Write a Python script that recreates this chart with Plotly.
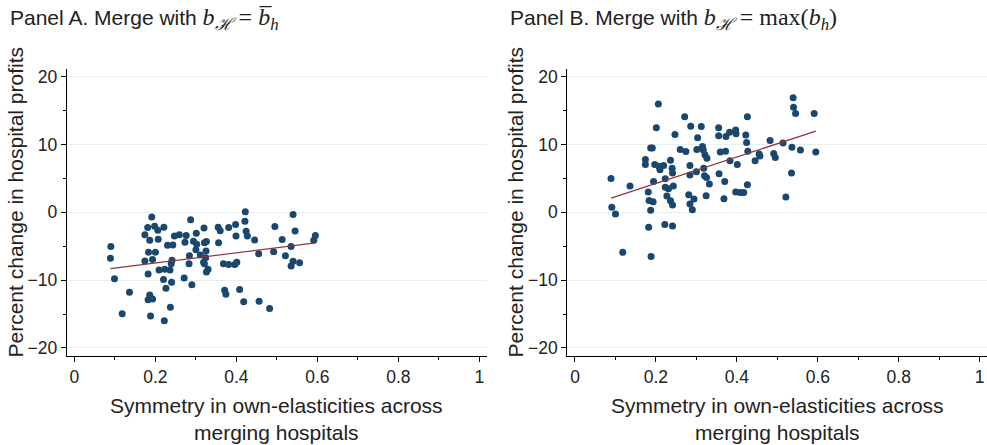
import plotly.graph_objects as go
from plotly.subplots import make_subplots
import numpy as np

# ---------------- Data ----------------
panel_a_x = [0.090, 0.089, 0.099, 0.136, 0.118, 0.191, 0.181, 0.198, 0.206, 0.221,
             0.174, 0.186, 0.207, 0.183, 0.200, 0.174, 0.193, 0.182, 0.209, 0.223,
             0.236, 0.220, 0.240, 0.226, 0.186, 0.182, 0.193, 0.237, 0.188, 0.222,
             0.230, 0.243, 0.247, 0.259, 0.276, 0.273, 0.287, 0.241, 0.239, 0.284,
             0.283, 0.271, 0.290, 0.301, 0.294, 0.302, 0.300, 0.320, 0.321, 0.326,
             0.311, 0.325, 0.324, 0.319, 0.321, 0.330, 0.326, 0.355, 0.360, 0.356,
             0.381, 0.398, 0.399, 0.422, 0.421, 0.424, 0.427, 0.445, 0.368, 0.381,
             0.396, 0.401, 0.371, 0.374, 0.408, 0.418, 0.455, 0.456, 0.482, 0.495,
             0.492, 0.513, 0.521, 0.540, 0.545, 0.535, 0.540, 0.535, 0.556, 0.591,
             0.595]
panel_a_y = [-5.05, -6.76, -9.8, -11.8, -14.95, -0.69, -2.25, -2.06, -2.65, -2.2,
             -3.3, -4.1, -3.97, -5.88, -5.88, -7.16, -6.96, -9.1, -8.5, -8.4,
             -8.5, -9.9, -10.3, -11.2, -12.2, -12.9, -12.8, -14.0, -15.3, -16.0,
             -4.85, -4.8, -3.5, -3.3, -3.4, -4.4, -1.08, -7.06, -7.6, -6.4,
             -7.6, -9.7, -10.7, -3.1, -4.27, -4.7, -5.5, -2.3, -4.5, -4.3,
             -6.3, -5.7, -6.7, -7.35, -7.6, -8.4, -8.8, -2.2, -2.7, -4.5,
             -2.25, -1.8, -3.5, 0.1, -1.3, -2.8, -3.5, -4.07, -7.6, -7.7,
             -7.7, -7.35, -11.5, -12.1, -11.4, -13.2, -6.1, -13.1, -14.2, -2.1,
             -5.8, -4.0, -6.4, -0.3, -2.75, -5.05, -7.2, -7.9, -7.45, -4.1,
             -3.4]

panel_b_x = [0.089, 0.136, 0.206, 0.201, 0.187, 0.191, 0.174, 0.174, 0.197, 0.207,
             0.219, 0.210, 0.194, 0.181, 0.183, 0.236, 0.240, 0.241, 0.223, 0.223,
             0.231, 0.243, 0.227, 0.236, 0.247, 0.260, 0.274, 0.271, 0.286, 0.312,
             0.303, 0.301, 0.315, 0.317, 0.321, 0.326, 0.284, 0.300, 0.318, 0.284,
             0.320, 0.325, 0.332, 0.281, 0.294, 0.324, 0.284, 0.355, 0.355, 0.359,
             0.372, 0.373, 0.382, 0.397, 0.398, 0.422, 0.426, 0.424, 0.427, 0.383,
             0.401, 0.356, 0.370, 0.368, 0.397, 0.408, 0.417, 0.426, 0.445, 0.455,
             0.457, 0.482, 0.491, 0.495, 0.514, 0.536, 0.535, 0.521, 0.539, 0.540,
             0.545, 0.557, 0.591, 0.595, 0.091, 0.100, 0.118, 0.188, 0.182, 0.222,
             0.241, 0.187, 0.193, 0.241, 0.290]
panel_b_y = [5.0, 3.87, 16.0, 12.5, 9.5, 9.5, 7.8, 7.06, 7.06, 6.8,
             6.9, 6.3, 4.56, 3.0, 1.76, 7.7, 6.5, 5.8, 4.95, 3.7,
             3.5, 3.9, 2.4, 1.7, 11.5, 9.26, 8.97, 14.1, 12.7, 12.65,
             11.0, 9.26, 9.7, 9.2, 8.5, 8.0, 6.9, 6.0, 6.5, 5.5,
             5.4, 5.15, 4.2, 2.6, 1.96, 2.45, 1.25, 12.5, 11.3, 8.9,
             9.0, 11.2, 11.8, 12.15, 11.6, 11.4, 14.1, 10.3, 9.0, 7.6,
             7.06, 5.7, 4.56, 2.0, 3.0, 2.94, 2.94, 4.07, 7.6, 8.6,
             8.3, 10.6, 8.7, 8.1, 10.25, 9.6, 5.8, 2.25, 16.9, 15.5,
             14.6, 9.2, 14.6, 8.9, 0.74, -0.25, -5.9, -6.5, -2.2, -1.8,
             -2.0, 0.3, 1.57, 1.07, 0.4]

# linear fit lines (intercept, slope)
fit_a = (-8.98, 7.52)
fit_b = (0.36, 19.53)

x_ticks = [0, 0.2, 0.4, 0.6, 0.8, 1]
x_tick_labels = ["0", "0.2", "0.4", "0.6", "0.8", "1"]
y_ticks = [-20, -10, 0, 10, 20]
y_tick_labels = ["\u221220", "\u221210", "0", "10", "20"]

x_title = "Symmetry in own-elasticities across<br>merging hospitals"
y_title = "Percent change in hospital profits"

# ---------------- Style ----------------
NAVY = "#1a476f"
MAROON = "#90353b"
GRID = "#e6eff1"
TXT = "#222222"
SANS = "Liberation Sans, Arial, Helvetica, sans-serif"
SERIF = "Liberation Serif, DejaVu Serif, serif"

W, H = 987, 445

fig = make_subplots(rows=1, cols=2)

for col, (xs, ys, fit) in enumerate([(panel_a_x, panel_a_y, fit_a),
                                     (panel_b_x, panel_b_y, fit_b)], start=1):
    fig.add_trace(go.Scatter(x=xs, y=ys, mode="markers",
                             marker=dict(color=NAVY, size=7, line=dict(width=0)),
                             showlegend=False), row=1, col=col)
    lx = np.array([min(xs), max(xs)])
    ly = fit[0] + fit[1] * lx
    fig.add_trace(go.Scatter(x=lx, y=ly, mode="lines",
                             line=dict(color=MAROON, width=1.2),
                             showlegend=False), row=1, col=col)

# domains (pixel based)
xd1 = [66.7 / W, 486.7 / W]
xd2 = [567.3 / W, 1.0]
yd = [1 - 355.7 / H, 1 - 69 / H]

axis_common_x = dict(
    range=[-0.019, 1.018], tickvals=x_ticks, ticktext=x_tick_labels,
    ticks="outside", ticklen=5, tickwidth=1, tickcolor="#000",
    showline=True, linecolor="#000", linewidth=1, showgrid=False, zeroline=False,
    tickfont=dict(family=SANS, size=17.5, color=TXT),
    minor=dict(tickvals=[0.1, 0.3, 0.5, 0.7, 0.9], ticks="outside", ticklen=3,
               tickwidth=1, tickcolor="#000", showgrid=False),
    automargin=False,
)
axis_common_y = dict(
    range=[-21.15, 21.15], tickvals=y_ticks, ticktext=y_tick_labels,
    ticks="outside", ticklen=5, tickwidth=1, tickcolor="#000",
    showline=True, linecolor="#000", linewidth=1,
    showgrid=True, gridcolor=GRID, gridwidth=1, zeroline=False,
    tickfont=dict(family=SANS, size=17.5, color=TXT),
    minor=dict(tickvals=[-15, -5, 5, 15], ticks="outside", ticklen=3,
               tickwidth=1, tickcolor="#000", showgrid=False),
    automargin=False,
)

fig.update_layout(
    xaxis=dict(domain=xd1, **axis_common_x),
    xaxis2=dict(domain=xd2, **axis_common_x),
    yaxis=dict(domain=yd, **axis_common_y),
    yaxis2=dict(domain=yd, **axis_common_y),
)

TITLE_FONT = dict(family=SANS, size=21, color=TXT)

# axis titles as annotations for exact placement
for cx, cy_px in [((66.7 + 486.7) / 2, 419), ((567.3 + 987) / 2, 419)]:
    fig.add_annotation(text=x_title, x=cx / W, y=1 - cy_px / H, xref="paper", yref="paper",
                       xanchor="center", yanchor="middle", showarrow=False,
                       font=TITLE_FONT, align="center")
for cx in [15, 515]:
    fig.add_annotation(text=y_title, x=cx / W, y=1 - 202.5 / H, xref="paper", yref="paper",
                       xanchor="center", yanchor="middle", showarrow=False,
                       textangle=-90, font=TITLE_FONT)

math_a = (f"<span style='font-family:{SERIF}; font-size:24px'><i>b</i><sub><i>\u210b</i></sub>"
          f" = <i>b\u0305</i><sub><i>h</i></sub></span>")
math_b = (f"<span style='font-family:{SERIF}; font-size:24px'><i>b</i><sub><i>\u210b</i></sub>"
          f" = max(<i>b</i><sub><i>h</i></sub>)</span>")

fig.add_annotation(text="Panel A. Merge with " + math_a, x=8 / W, y=1 - 19 / H,
                   xref="paper", yref="paper", xanchor="left", yanchor="middle",
                   showarrow=False, font=TITLE_FONT)
fig.add_annotation(text="Panel B. Merge with " + math_b, x=508 / W, y=1 - 19 / H,
                   xref="paper", yref="paper", xanchor="left", yanchor="middle",
                   showarrow=False, font=TITLE_FONT)

fig.update_layout(
    width=W, height=H,
    margin=dict(l=0, r=0, t=0, b=0),
    paper_bgcolor="white", plot_bgcolor="white",
    font=dict(family=SANS, color=TXT),
)

fig.write_html("out.html", config={"displayModeBar": False},
               post_script="document.body.style.margin='0';document.body.style.overflow='hidden';")
